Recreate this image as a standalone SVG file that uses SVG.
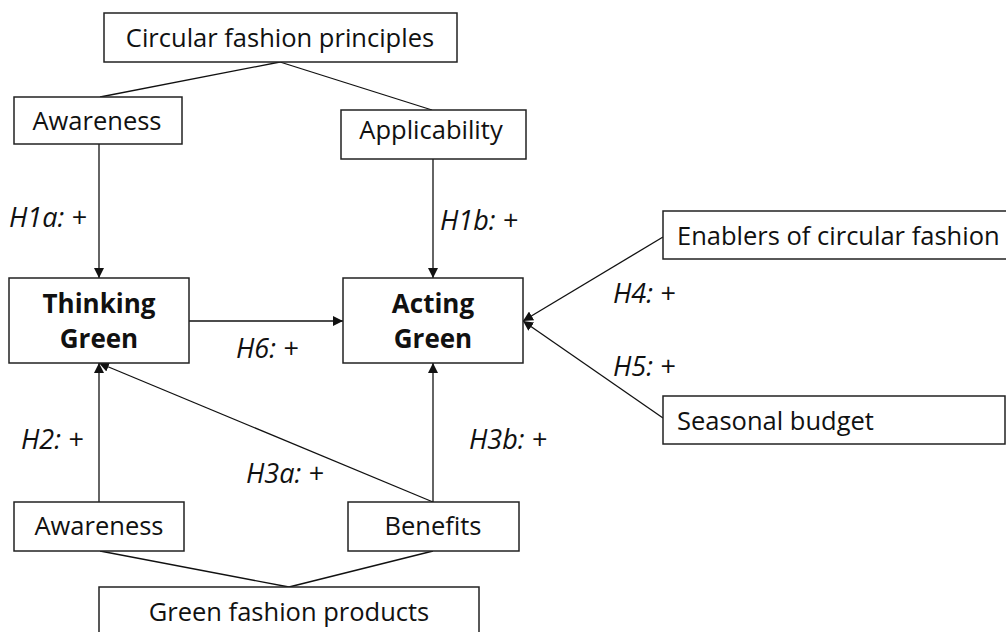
<svg xmlns="http://www.w3.org/2000/svg" width="1006" height="632" viewBox="0 0 1006 632">
<style>
.box{fill:#fff;stroke:#222;stroke-width:1.5}
.t{font-family:"Open Sans","Liberation Sans",sans-serif;font-size:25.5px;fill:#111}
.b{font-weight:bold;text-anchor:middle;font-size:26px}
.m{text-anchor:middle}
.h{font-family:"Open Sans","Liberation Sans",sans-serif;font-size:27px;font-style:italic;fill:#111}
.c{stroke:#111;stroke-width:1.3;fill:none}
.a{marker-end:url(#arr)}
</style>
<defs>
<marker id="arr" viewBox="0 0 10 10" refX="10" refY="5" markerWidth="10" markerHeight="10" markerUnits="userSpaceOnUse" orient="auto">
<path d="M0,0 L10,5 L0,10 z" fill="#111"/>
</marker>
</defs>
<rect width="1006" height="632" fill="#fff"/>
<g id="connectors">
<line class="c" x1="280" y1="62" x2="100" y2="97"/>
<line class="c" x1="280" y1="62" x2="432" y2="110"/>
<line class="c a" x1="99" y1="144" x2="99" y2="278"/>
<line class="c a" x1="433" y1="159" x2="433" y2="278"/>
<line class="c a" x1="189" y1="321" x2="343" y2="321"/>
<line class="c a" x1="663" y1="237" x2="523" y2="321"/>
<line class="c a" x1="663" y1="418" x2="523" y2="321"/>
<line class="c a" x1="99" y1="502" x2="99" y2="363"/>
<line class="c a" x1="433" y1="502" x2="99" y2="363"/>
<line class="c a" x1="433" y1="502" x2="433" y2="363"/>
<line class="c" x1="100" y1="551" x2="289" y2="587"/>
<line class="c" x1="433" y1="551" x2="289" y2="587"/>
</g>
<g id="circular-fashion-principles">
<rect class="box" x="104" y="13" width="353" height="49"/>
<text class="t m" x="280" y="47">Circular fashion principles</text>
</g>
<g id="awareness-top">
<rect class="box" x="14" y="97" width="168" height="47"/>
<text class="t m" x="97" y="130">Awareness</text>
</g>
<g id="applicability">
<rect class="box" x="341" y="110" width="185" height="49"/>
<text class="t m" x="431" y="139">Applicability</text>
</g>
<g id="thinking-green">
<rect class="box" x="9" y="278" width="180" height="85"/>
<text class="t b" x="99" y="313">Thinking</text>
<text class="t b" x="99" y="348">Green</text>
</g>
<g id="acting-green">
<rect class="box" x="343" y="278" width="180" height="85"/>
<text class="t b" x="433" y="313">Acting</text>
<text class="t b" x="433" y="348">Green</text>
</g>
<g id="enablers">
<rect class="box" x="663" y="211" width="350" height="48"/>
<text class="t" x="677" y="245">Enablers of circular fashion</text>
</g>
<g id="seasonal-budget">
<rect class="box" x="663" y="396" width="342" height="48"/>
<text class="t" x="677" y="430">Seasonal budget</text>
</g>
<g id="awareness-bottom">
<rect class="box" x="14" y="502" width="170" height="49"/>
<text class="t m" x="99" y="535">Awareness</text>
</g>
<g id="benefits">
<rect class="box" x="348" y="502" width="171" height="49"/>
<text class="t m" x="433" y="535">Benefits</text>
</g>
<g id="green-fashion-products">
<rect class="box" x="99" y="587" width="380" height="50"/>
<text class="t m" x="289" y="621">Green fashion products</text>
</g>
<g id="labels">
<text class="h" x="9" y="227">H1a: +</text>
<text class="h" x="440" y="230">H1b: +</text>
<text class="h" x="236" y="358">H6: +</text>
<text class="h" x="613" y="303">H4: +</text>
<text class="h" x="613" y="376">H5: +</text>
<text class="h" x="21" y="449">H2: +</text>
<text class="h" x="246" y="483">H3a: +</text>
<text class="h" x="469" y="449">H3b: +</text>
</g>
</svg>
